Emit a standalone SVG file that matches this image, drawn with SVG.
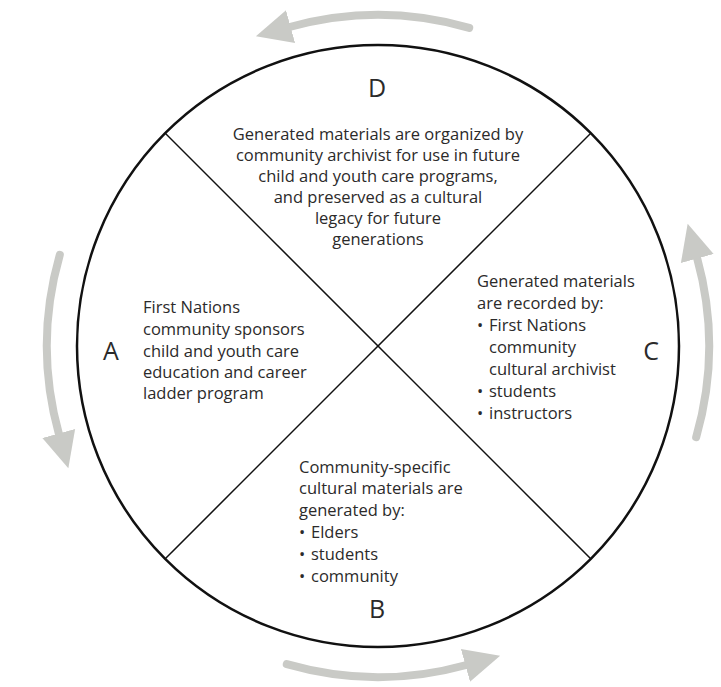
<svg xmlns="http://www.w3.org/2000/svg" width="721" height="687" viewBox="0 0 721 687">
<style>
.t{font-family:"Open Sans","Liberation Sans",sans-serif;font-size:16.5px;fill:#2b2a2a}
.big{font-family:"Open Sans","Liberation Sans",sans-serif;font-size:25px;fill:#2b2a2a}
.c{text-anchor:middle}
.arr{fill:none;stroke:#c9cac6;stroke-width:8;stroke-linecap:round;marker-end:url(#head)}
.ln{stroke:#111;fill:none}
</style>
<defs>
<marker id="head" markerUnits="userSpaceOnUse" markerWidth="40" markerHeight="40" viewBox="0 -20 40 40" refX="1" refY="0" orient="auto">
<path d="M0,-17 L36,0 L0,17 Z" fill="#c9cac6"/>
</marker>
<path id="arc" class="arr" d="M469.2,27.8 A331,331 0 0 0 289.6,27"/>
</defs>
<rect width="721" height="687" fill="#fff"/>
<g id="connectors">
<use href="#arc"/>
<use href="#arc" transform="rotate(90 378 346)"/>
<use href="#arc" transform="rotate(180 378 346)"/>
<use href="#arc" transform="rotate(270 378 346)"/>
</g>
<g id="circle">
<circle class="ln" cx="378" cy="346" r="301" stroke-width="2.5"/>
<line class="ln" x1="165" y1="133" x2="591" y2="559" stroke-width="1.5"/>
<line class="ln" x1="591" y1="133" x2="165" y2="559" stroke-width="1.5"/>
</g>
<g id="D">
<text class="big c" x="377" y="97">D</text>
<text class="t c" x="378" y="140">Generated materials are organized by</text>
<text class="t c" x="378" y="161">community archivist for use in future</text>
<text class="t c" x="378" y="182">child and youth care programs,</text>
<text class="t c" x="378" y="203">and preserved as a cultural</text>
<text class="t c" x="378" y="224">legacy for future</text>
<text class="t c" x="378" y="245">generations</text>
</g>
<g id="A">
<text class="big c" x="111" y="360">A</text>
<text class="t" x="143" y="313">First Nations</text>
<text class="t" x="143" y="335">community sponsors</text>
<text class="t" x="143" y="357">child and youth care</text>
<text class="t" x="143" y="378">education and career</text>
<text class="t" x="143" y="399">ladder program</text>
</g>
<g id="C">
<text class="big c" x="651" y="360">C</text>
<text class="t" x="477" y="287">Generated materials</text>
<text class="t" x="477" y="309">are recorded by:</text>
<text class="t" x="477" y="331">•</text><text class="t" x="489" y="331">First Nations</text>
<text class="t" x="489" y="353">community</text>
<text class="t" x="489" y="375">cultural archivist</text>
<text class="t" x="477" y="397">•</text><text class="t" x="489" y="397">students</text>
<text class="t" x="477" y="419">•</text><text class="t" x="489" y="419">instructors</text>
</g>
<g id="B">
<text class="t" x="299" y="473">Community-specific</text>
<text class="t" x="299" y="494">cultural materials are</text>
<text class="t" x="299" y="516">generated by:</text>
<text class="t" x="299" y="538">•</text><text class="t" x="311" y="538">Elders</text>
<text class="t" x="299" y="560">•</text><text class="t" x="311" y="560">students</text>
<text class="t" x="299" y="582">•</text><text class="t" x="311" y="582">community</text>
<text class="big c" x="377" y="618">B</text>
</g>
</svg>
